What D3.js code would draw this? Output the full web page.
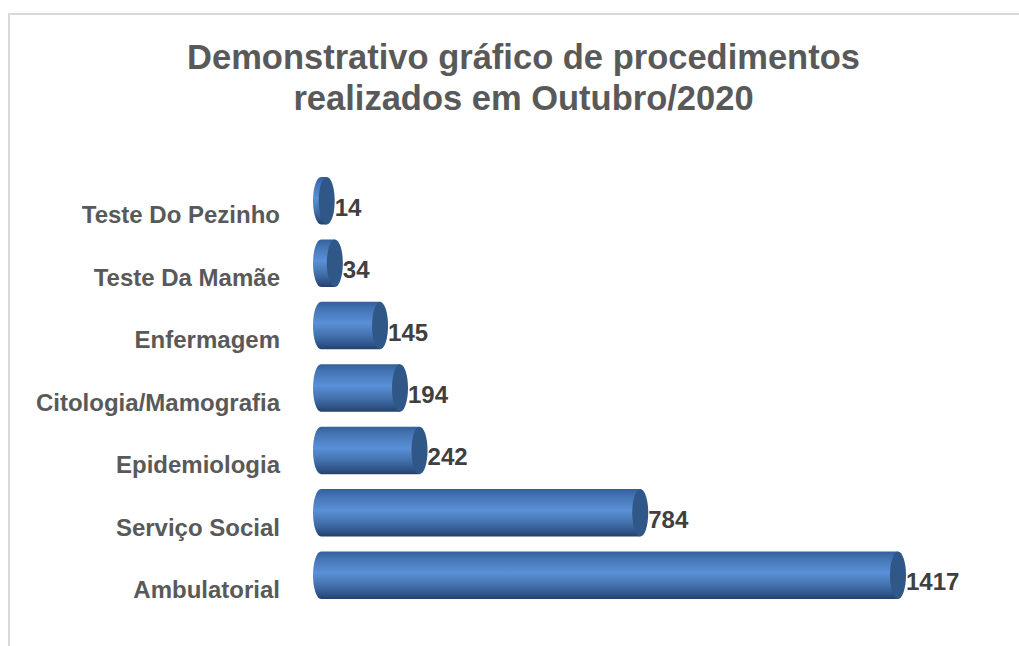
<!DOCTYPE html>
<html>
<head>
<meta charset="utf-8">
<script src="https://cdn.jsdelivr.net/npm/d3@7"></script>
<style>
  html, body { margin: 0; padding: 0; background: #fff; overflow: hidden; }
  text { font-family: "Liberation Sans", Arial, sans-serif; font-weight: bold; }
</style>
</head>
<body>
<svg id="chart" width="1019" height="646"></svg>
<script>
// top row first, same order as the picture
const categories = ['Teste Do Pezinho', 'Teste Da Mamãe', 'Enfermagem', 'Citologia/Mamografia', 'Epidemiologia', 'Serviço Social', 'Ambulatorial'];
const values = [14, 34, 145, 194, 242, 784, 1417];
const titleLines = ['Demonstrativo gráfico de procedimentos', 'realizados em Outubro/2020'];

const svg = d3.select('#chart');

// chart frame, open on the right and at the bottom
svg.append('path')
  .attr('d', 'M9,646V14H1019')
  .attr('fill', 'none')
  .attr('stroke', '#d9d9d9')
  .attr('stroke-width', 2);

svg.append('text')
  .attr('text-anchor', 'middle')
  .attr('font-size', 34.5)
  .attr('fill', '#595959')
  .selectAll('tspan')
  .data(titleLines)
  .join('tspan')
  .attr('x', 523.5)
  .attr('y', (d, i) => 69 + i * 41)
  .text(d => d);

const rx = 8;
const x = d3.scaleLinear().domain([0, 1417]).range([321, 898]);
const y = d3.scaleBand().domain(categories).range([177, 599]).paddingInner(0.238).paddingOuter(0);
const ry = y.bandwidth() / 2;

const grad = svg.append('defs').append('linearGradient')
  .attr('id', 'cyl')
  .attr('x1', 0).attr('y1', 0).attr('x2', 0).attr('y2', 1);
[[0, '#33609c'], [0.15, '#4474b4'], [0.45, '#5a90d8'], [0.7, '#4473ae'], [0.9, '#2f5488'], [1, '#24406a']]
  .forEach(s => grad.append('stop').attr('offset', s[0]).attr('stop-color', s[1]));

const bars = svg.append('g').selectAll('g')
  .data(categories)
  .join('g');

bars.append('path')
  .attr('fill', 'url(#cyl)')
  .attr('d', (d, i) => {
    const top = y(d), bot = top + y.bandwidth(), x1 = x(values[i]);
    return `M${x(0)},${top}L${x1},${top}L${x1},${bot}L${x(0)},${bot}A${rx},${ry} 0 0 1 ${x(0)},${top}Z`;
  });

bars.append('ellipse')
  .attr('cx', (d, i) => x(values[i]))
  .attr('cy', d => y(d) + ry)
  .attr('rx', rx)
  .attr('ry', ry)
  .attr('fill', '#2f5787');

bars.append('text')
  .attr('x', (d, i) => x(values[i]) + rx)
  .attr('y', d => y(d) + ry + 15)
  .attr('font-size', 24)
  .attr('fill', '#404040')
  .text((d, i) => values[i]);

const axis = svg.append('g')
  .attr('transform', 'translate(280,15)')
  .call(d3.axisLeft(y).tickSize(0).tickPadding(0));
axis.select('.domain').remove();
axis.selectAll('text')
  .attr('font-size', 24)
  .attr('fill', '#595959')
  .style('font-family', '"Liberation Sans", Arial, sans-serif');
</script>
</body>
</html>
